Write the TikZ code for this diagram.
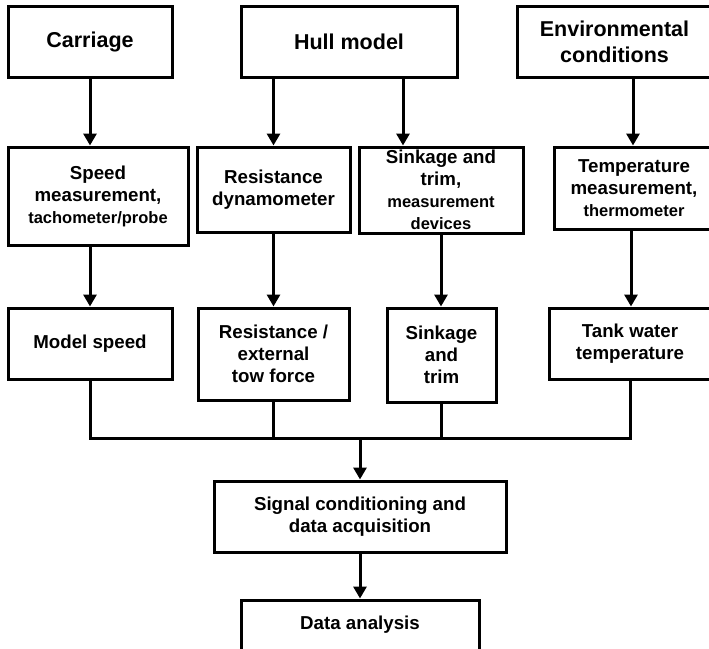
\documentclass[tikz,border=0pt]{standalone}
\usepackage{fontspec}
\setmainfont{Liberation Sans}
\usetikzlibrary{arrows.meta,calc}
\newcommand\smf{\fontsize{16.5}{20}\selectfont}
\begin{document}
\begin{tikzpicture}[x=1pt,y=-1pt,
 box/.style={draw, line width=3pt, inner sep=0pt, align=center, font=\bfseries\fontsize{18.7}{22}\selectfont},
 ttl/.style={font=\bfseries\fontsize{21.5}{26}\selectfont},
 arr/.style={line width=3pt, -{Triangle[width=13pt,length=12pt]}},
 wire/.style={line width=3pt}]
\useasboundingbox (0,0) rectangle (709,648);
\clip (0,0) rectangle (709,648);
% top row
\node[box, ttl, minimum width=164pt, minimum height=71pt] (car) at (90,41.5) {Carriage};
\node[box, ttl, minimum width=216pt, minimum height=71pt] (hull) at (349,41.5) {Hull model};
\node[box, ttl, minimum width=195pt, minimum height=71pt] (env) at (614.5,41.5) {Environmental\\conditions};
% second row
\node[box, minimum width=180pt, minimum height=98pt] (speed) at (98,196) {Speed\\measurement,\\{\smf tachometer/probe}};
\node[box, minimum width=153pt, minimum height=85pt] (resd) at (273.5,189.5) {Resistance\\dynamometer};
\node[box, minimum width=164pt, minimum height=86pt] (sinkm) at (441,190) {Sinkage and\\trim,\\{\smf measurement}\\{\smf devices}};
\node[box, minimum width=160pt, minimum height=82pt] (temp) at (634,188) {Temperature\\measurement,\\{\smf thermometer}};
% third row
\node[box, minimum width=164pt, minimum height=71pt] (model) at (90,343.5) {Model speed};
\node[box, minimum width=151pt, minimum height=92pt] (rese) at (273.5,354) {Resistance /\\external\\tow force};
\node[box, minimum width=109pt, minimum height=94pt] (sinkt) at (441.5,355) {Sinkage\\and\\trim};
\node[box, minimum width=162pt, minimum height=71pt] (tank) at (630,343.5) {Tank water\\temperature};
% bottom
\node[box, minimum width=292pt, minimum height=71pt] (sig) at (360,516.5) {Signal conditioning and\\data acquisition};
\node[box, minimum width=238pt, minimum height=50pt] (data) at (360,625) {Data analysis};
% arrows top -> second
\draw[arr] (car.south) -- (car.south |- speed.north);
\draw[arr] (hull.south -| resd.north) -- (resd.north);
\draw[arr] ([xshift=54pt]hull.south) -- ([xshift=54pt]hull.south |- sinkm.north);
\draw[arr] ([xshift=18.5pt]env.south) -- ([xshift=18.5pt]env.south |- temp.north);
% second -> third
\draw[arr] (model.north |- speed.south) -- (model.north);
\draw[arr] (resd.south) -- (rese.north);
\draw[arr] (sinkm.south) -- (sinkm.south |- sinkt.north);
\draw[arr] ([xshift=-3pt]temp.south) -- ([xshift=-3pt]temp.south |- tank.north);
% bus
\coordinate (bus) at (360,438);
\draw[wire] (model.south) -- (model.south |- bus) -- (tank.south |- bus) -- (tank.south);
\draw[wire] (rese.south) -- (rese.south |- bus);
\draw[wire] (sinkt.south) -- (sinkt.south |- bus);
\draw[arr] (bus) -- (bus |- sig.north);
\draw[arr] (sig.south) -- (data.north);
\end{tikzpicture}
\end{document}
